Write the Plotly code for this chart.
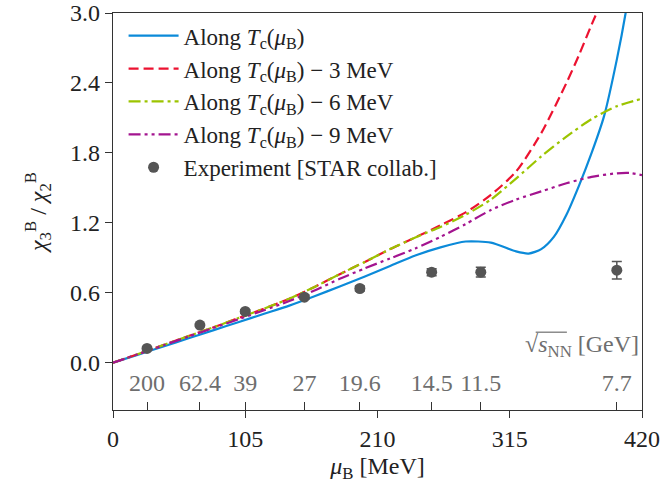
import plotly.graph_objects as go

# ---------------- data ----------------
mu_grid = [0, 20, 40, 60, 80, 100, 120, 140, 160, 180, 200, 220, 240, 260, 280,
           300, 320, 330, 340, 350, 360, 370, 380, 390, 400, 407, 414]
chi_tc = [0, 0.07, 0.14, 0.21, 0.28, 0.35, 0.42, 0.49, 0.57, 0.655, 0.74, 0.83, 0.92,
          0.99, 1.04, 1.03, 0.955, 0.937, 0.975, 1.08, 1.27, 1.52, 1.80, 2.12, 2.60, 3.0, 3.5]

mu_red = [0, 20, 40, 60, 80, 100, 120, 140, 160, 180, 200, 220, 240, 260, 280,
          300, 320, 340, 360, 370, 380, 392]
chi_tc3 = [0, 0.075, 0.152, 0.23, 0.305, 0.385, 0.465, 0.55, 0.65, 0.76, 0.865, 0.975,
           1.075, 1.18, 1.29, 1.44, 1.64, 1.97, 2.40, 2.64, 2.90, 3.2]

mu_grn = [0, 20, 40, 60, 80, 100, 120, 140, 160, 180, 200, 220, 240, 260, 280,
          300, 320, 340, 360, 380, 400, 420]
chi_tc6 = [0, 0.075, 0.152, 0.23, 0.305, 0.385, 0.465, 0.55, 0.65, 0.76, 0.865, 0.975,
           1.075, 1.165, 1.27, 1.40, 1.58, 1.77, 1.94, 2.09, 2.20, 2.265]

mu_pur = [0, 20, 40, 60, 80, 100, 120, 140, 160, 180, 200, 220, 240, 260, 280,
          300, 320, 340, 360, 380, 400, 410, 420]
chi_tc9 = [0, 0.074, 0.15, 0.225, 0.30, 0.375, 0.45, 0.53, 0.62, 0.72, 0.81, 0.895,
           0.98, 1.08, 1.19, 1.31, 1.40, 1.47, 1.54, 1.595, 1.625, 1.628, 1.61]

exp_mu = [27, 69, 105, 152, 196, 253, 292, 400]
exp_val = [0.123, 0.323, 0.44, 0.563, 0.637, 0.777, 0.777, 0.794]
exp_err = [0.01, 0.012, 0.015, 0.018, 0.022, 0.03, 0.042, 0.075]
sqrt_s = ["200", "62.4", "39", "27", "19.6", "14.5", "11.5", "7.7"]

x_ticks = [0, 105, 210, 315, 420]
y_ticks = [0.0, 0.6, 1.2, 1.8, 2.4, 3.0]

# ---------------- style ----------------
FONT = "Liberation Serif, Times New Roman, serif"
AX = "#333333"
FS = 24
GRAY = "#6e6e6e"
SM = 0.7

fig = go.Figure()

fig.add_trace(go.Scatter(x=mu_grid, y=chi_tc, mode="lines",
                         name="Along <i>T</i><sub>c</sub>(<i>μ</i><sub>B</sub>)",
                         line=dict(color="#0b8ad9", width=2.2, shape="spline",
                                   smoothing=SM)))
fig.add_trace(go.Scatter(x=mu_red, y=chi_tc3, mode="lines",
                         name="Along <i>T</i><sub>c</sub>(<i>μ</i><sub>B</sub>) − 3 MeV",
                         line=dict(color="#ec1230", width=2.2, dash="10px,5px",
                                   shape="spline", smoothing=SM)))
fig.add_trace(go.Scatter(x=mu_grn, y=chi_tc6, mode="lines",
                         name="Along <i>T</i><sub>c</sub>(<i>μ</i><sub>B</sub>) − 6 MeV",
                         line=dict(color="#9cc400", width=2.2, dash="12px,4px,3px,4px",
                                   shape="spline", smoothing=SM)))
fig.add_trace(go.Scatter(x=mu_pur, y=chi_tc9, mode="lines",
                         name="Along <i>T</i><sub>c</sub>(<i>μ</i><sub>B</sub>) − 9 MeV",
                         line=dict(color="#a3148f", width=2.2,
                                   dash="12px,4px,3px,4px,3px,4px",
                                   shape="spline", smoothing=SM)))
fig.add_trace(go.Scatter(x=exp_mu, y=exp_val, mode="markers",
                         name="Experiment [STAR collab.]",
                         marker=dict(color="#555555", size=11),
                         error_y=dict(type="data", array=exp_err, color="#555555",
                                      thickness=1.5, width=5)))

# invisible trace to activate the secondary x axis
fig.add_trace(go.Scatter(x=exp_mu, y=exp_val, xaxis="x2", mode="markers",
                         marker=dict(opacity=0), showlegend=False, hoverinfo="skip"))

fig.update_layout(
    width=662, height=496,
    margin=dict(l=113, r=20, t=13, b=86, autoexpand=False),
    paper_bgcolor="white", plot_bgcolor="white",
    font=dict(family=FONT, size=FS, color="#222222"),
    showlegend=True,
    legend=dict(x=0.02, y=0.997, xanchor="left", yanchor="top",
                bgcolor="rgba(0,0,0,0)", font=dict(size=23, color="#222222"),
                tracegroupgap=0, itemwidth=50),
    xaxis=dict(range=[0, 420], tickvals=x_ticks, ticktext=[str(v) for v in x_ticks],
               ticks="outside", ticklen=7, tickwidth=1.3, tickcolor=AX,
               showline=True, linecolor=AX, linewidth=1.3, mirror=True,
               showgrid=False, zeroline=False, automargin=False,
               tickfont=dict(size=FS),
               title=dict(text="<i>μ</i><sub>B</sub> [MeV]", standoff=6,
                          font=dict(size=FS))),
    xaxis2=dict(range=[0, 420], overlaying="x", anchor="y", side="bottom",
                tickvals=exp_mu, ticktext=sqrt_s, ticks="inside", ticklen=8,
                tickwidth=1.1, tickcolor=AX, ticklabelposition="inside",
                ticklabelstandoff=8, automargin=False,
                tickfont=dict(size=FS, color=GRAY, family=FONT),
                showgrid=False, zeroline=False, showline=False),
    yaxis=dict(range=[-0.405, 3.0], tickvals=y_ticks,
               ticktext=[f"{v:.1f}" for v in y_ticks],
               ticks="outside", ticklen=7, tickwidth=1.3, tickcolor=AX,
               showline=True, linecolor=AX, linewidth=1.3, mirror=True,
               showgrid=False, zeroline=False, automargin=False,
               tickfont=dict(size=FS),
               title=dict(text="<i>χ</i><sub>3</sub><sup>B</sup> / <i>χ</i><sub>2</sub><sup>B</sup>",
                          standoff=16, font=dict(size=FS))),
)

# sqrt(s_NN) [GeV] label
fig.add_annotation(x=0.999, y=0.162, xref="paper", yref="paper",
                   xanchor="right", yanchor="middle", showarrow=False,
                   text="√<i>s</i><sub>NN</sub> [GeV]",
                   font=dict(size=FS, color=GRAY, family=FONT))
# overline of the square-root sign
fig.add_shape(type="line", xref="paper", yref="paper",
              x0=0.799, x1=0.858, y0=0.196, y1=0.196,
              line=dict(color=GRAY, width=1.2))

fig.write_html("out.html")
